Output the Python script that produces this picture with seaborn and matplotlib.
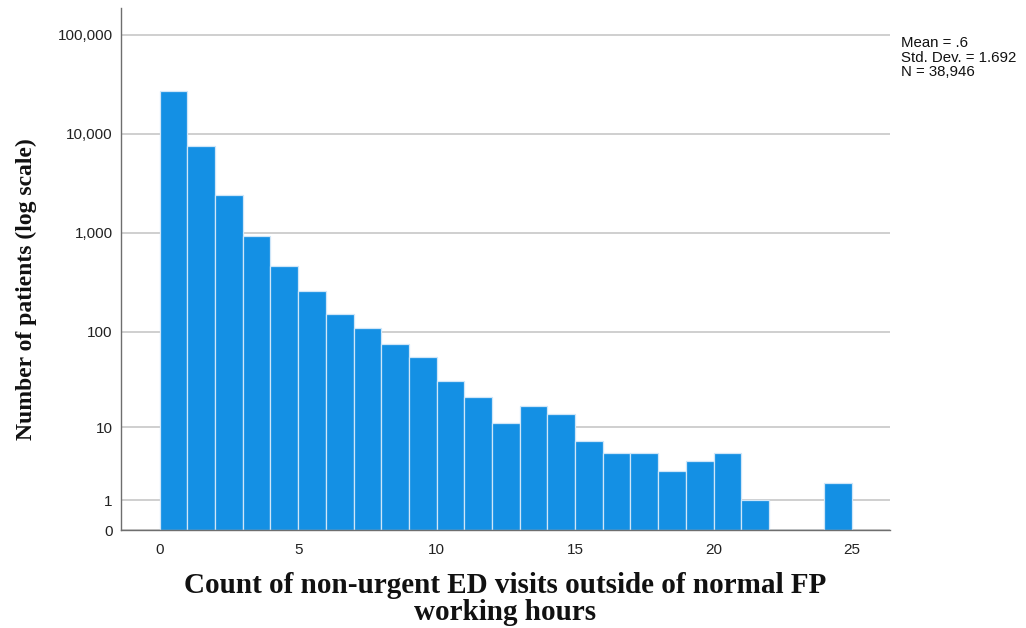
import numpy as np
import pandas as pd
import matplotlib
matplotlib.use("Agg")
import matplotlib.pyplot as plt
import seaborn as sns
from matplotlib.ticker import FixedLocator, FixedFormatter

# ---- data ----
visits = list(range(0, 25))
patients = [26820, 7540, 2400, 939, 464, 261, 151, 109, 74, 55, 31, 21,
            11, 17, 14, 7, 5, 5, 3, 4, 5, 1, 0, 0, 2]
ytick_values = [0, 1, 10, 100, 1000, 10000, 100000]
ytick_labels = ["0", "1", "10", "100", "1,000", "10,000", "100,000"]
xtick_values = [0, 5, 10, 15, 20, 25]
stats_lines = ["Mean = .6", "Std. Dev. = 1.692", "N = 38,946"]
xlabel = "Count of non-urgent ED visits outside of normal FP\nworking hours"
ylabel = "Number of patients (log scale)"

df = pd.DataFrame({"visits": [v + 0.5 for v in visits], "patients": patients})

sns.set_theme(style="white")
plt.rcParams["font.family"] = ["Liberation Sans", "DejaVu Sans"]

fig = plt.figure(figsize=(10.26, 6.28), dpi=100)
ax = fig.add_axes([0.1179, 0.1556, 0.7495, 0.8312])

sns.histplot(data=df, x="visits", weights="patients", binwidth=1,
             binrange=(0, 25), ax=ax, color="#1490E4", alpha=1.0,
             edgecolor="#cfe6f8", linewidth=0.9)


def fwd(v):
    v = np.asarray(v, dtype=float)
    return np.sign(v) * np.log10(1 + np.abs(v))


def inv(t):
    t = np.asarray(t, dtype=float)
    return np.sign(t) * (10 ** np.abs(t) - 1)


ax.set_yscale("function", functions=(fwd, inv))

ax.set_xlim(-1.4, 26.37)
ax.set_ylim(0, 10 ** 5.267 - 1)

ax.yaxis.set_major_locator(FixedLocator(ytick_values))
ax.yaxis.set_major_formatter(FixedFormatter(ytick_labels))
ax.yaxis.set_minor_locator(FixedLocator([]))
ax.set_xticks(xtick_values)
ax.set_xticklabels([str(v) for v in xtick_values])

ax.yaxis.grid(True, color="#cbcbcb", linewidth=1.3)
ax.xaxis.grid(False)
ax.set_axisbelow(True)

for s in ["top", "right"]:
    ax.spines[s].set_visible(False)
for s in ["left", "bottom"]:
    ax.spines[s].set_color("#6e6e6e")
    ax.spines[s].set_linewidth(1.0)

ax.tick_params(axis="both", length=0, labelsize=11, colors="#222222")
ax.tick_params(axis="y", pad=6)
ax.tick_params(axis="x", pad=9)

ax.set_xlabel(xlabel, fontsize=21, fontweight="bold",
              family="Liberation Serif", linespacing=1.0, labelpad=11,
              color="#111111")
ax.set_ylabel(ylabel, fontsize=17, fontweight="bold",
              family="Liberation Serif", color="#111111")
ax.yaxis.set_label_coords(-0.109, 0.462)

fig.text(901 / 1026, 1 - 36 / 628, "\n".join(stats_lines), fontsize=10.8,
         va="top", ha="left", linespacing=1.05, color="#111111")

fig.savefig("out.png", dpi=100)
